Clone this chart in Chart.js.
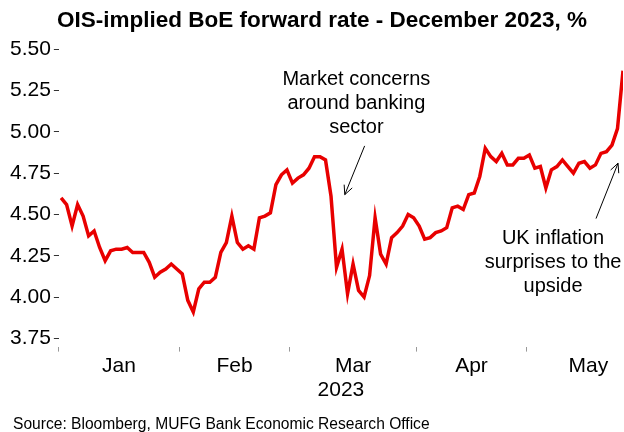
<!DOCTYPE html>
<html>
<head>
<meta charset="utf-8">
<script src="https://cdn.jsdelivr.net/npm/chart.js@4/dist/chart.umd.min.js"></script>
<style>
  html, body { margin: 0; padding: 0; background: #fff; }
  #wrap { position: relative; width: 624px; height: 432px; }
</style>
</head>
<body>
<div id="wrap"><canvas id="boeChart"></canvas></div>
<script>
// business-day index from 3 Jan 2023, rate in %
const RATES = [
  4.60, 4.56, 4.43, 4.56, 4.49, 4.37, 4.40, 4.30, 4.22, 4.28,
  4.29, 4.29, 4.30, 4.27, 4.27, 4.27, 4.21, 4.12, 4.15, 4.17,
  4.20, 4.17, 4.14, 3.98, 3.91, 4.05, 4.09, 4.09, 4.12, 4.27,
  4.33, 4.49, 4.33, 4.29, 4.31, 4.29, 4.48, 4.49, 4.51, 4.68,
  4.74, 4.77, 4.69, 4.72, 4.74, 4.78, 4.85, 4.85, 4.83, 4.61,
  4.18, 4.29, 4.02, 4.20, 4.04, 4.00, 4.13, 4.48, 4.26, 4.20,
  4.36, 4.39, 4.43, 4.50, 4.48, 4.43, 4.35, 4.36, 4.39, 4.40,
  4.42, 4.54, 4.55, 4.53, 4.62, 4.63, 4.73, 4.90, 4.85, 4.82,
  4.87, 4.80, 4.80, 4.84, 4.84, 4.86, 4.78, 4.79, 4.66, 4.77,
  4.79, 4.83, 4.79, 4.75, 4.81, 4.82, 4.78, 4.80, 4.87, 4.88,
  4.92, 5.02, 5.37
];

const MONTH_LABELS = ["Jan", "Feb", "Mar", "Apr", "May"];
const MONTH_BOUNDS = [-0.4, 21.5, 41.5, 64.5, 84.5];
const MONTH_MIDS = [10.5, 31.5, 53, 74.5, 95.7];
const Y_TICKS = [3.75, 4.00, 4.25, 4.50, 4.75, 5.00, 5.25, 5.50];

const NOTES = [
  { lines: ["Market concerns", "around banking", "sector"], at: [53.6, 5.32], arrow: [[55.1, 4.915], [51.5, 4.62]] },
  { lines: ["UK inflation", "surprises to the", "upside"], at: [89.3, 4.355], arrow: [[97.1, 4.475], [101.1, 4.81]] }
];
const TITLE = "OIS-implied BoE forward rate - December 2023, %";
const SOURCE = "Source: Bloomberg, MUFG Bank Economic Research Office";

const FONT = "'Liberation Sans', Arial, sans-serif";

const notesPlugin = {
  id: "notes",
  afterDatasetsDraw(chart) {
    const { ctx, scales: { x, y } } = chart;
    ctx.save();
    ctx.fillStyle = "#000";
    ctx.strokeStyle = "#000";
    ctx.lineWidth = 1;
    ctx.font = "20px " + FONT;
    ctx.textAlign = "center";
    ctx.textBaseline = "middle";
    for (const n of NOTES) {
      const cx = x.getPixelForValue(n.at[0]);
      const cy = y.getPixelForValue(n.at[1]);
      n.lines.forEach((t, i) => ctx.fillText(t, cx, cy + i * 24));

      const x1 = x.getPixelForValue(n.arrow[0][0]), y1 = y.getPixelForValue(n.arrow[0][1]);
      const x2 = x.getPixelForValue(n.arrow[1][0]), y2 = y.getPixelForValue(n.arrow[1][1]);
      const ang = Math.atan2(y2 - y1, x2 - x1);
      ctx.beginPath();
      ctx.moveTo(x1, y1);
      ctx.lineTo(x2, y2);
      ctx.moveTo(x2 - 10 * Math.cos(ang - 0.45), y2 - 10 * Math.sin(ang - 0.45));
      ctx.lineTo(x2, y2);
      ctx.lineTo(x2 - 10 * Math.cos(ang + 0.45), y2 - 10 * Math.sin(ang + 0.45));
      ctx.stroke();
    }

    // title sits a little right of the canvas centre, as in the original
    ctx.font = "bold 22.5px " + FONT;
    ctx.fillText(TITLE, 322, 21);

    ctx.font = "15.6px " + FONT;
    ctx.textAlign = "left";
    ctx.textBaseline = "alphabetic";
    ctx.fillText(SOURCE, 13, 429);
    ctx.restore();
  }
};

new Chart(document.getElementById("boeChart"), {
  type: "line",
  data: {
    datasets: [{
      data: RATES.map((v, i) => ({ x: i, y: v })),
      borderColor: "#e80000",
      borderWidth: 3.5,
      pointRadius: 0,
      tension: 0,
      fill: false
    }]
  },
  options: {
    responsive: true,
    maintainAspectRatio: false,
    animation: false,
    layout: { padding: { left: 7, right: 1, top: 41, bottom: 29 } },
    plugins: {
      legend: { display: false },
      tooltip: { enabled: false },
      title: { display: false }
    },
    scales: {
      x: {
        type: "linear",
        min: -0.4,
        max: 102,
        border: { display: false },
        grid: {
          drawOnChartArea: false,
          tickLength: 5,
          tickColor: (c) => MONTH_BOUNDS.includes(c.tick && c.tick.value) ? "#999" : "rgba(0,0,0,0)"
        },
        afterBuildTicks: (s) => {
          s.ticks = [...MONTH_BOUNDS, ...MONTH_MIDS].sort((a, b) => a - b).map((v) => ({ value: v }));
        },
        ticks: {
          autoSkip: false,
          maxRotation: 0,
          padding: 2,
          color: "#000",
          font: { family: FONT, size: 21 },
          callback: (v) => {
            const k = MONTH_MIDS.indexOf(v);
            return k >= 0 ? MONTH_LABELS[k] : "";
          }
        },
        title: {
          display: true,
          text: "2023",
          color: "#000",
          font: { family: FONT, size: 21 },
          padding: { top: -3, bottom: 0 }
        }
      },
      y: {
        min: 3.70,
        max: 5.55,
        border: { display: false },
        grid: { drawOnChartArea: false, tickLength: 5, tickColor: "#333" },
        afterBuildTicks: (s) => { s.ticks = Y_TICKS.map((v) => ({ value: v })); },
        ticks: {
          padding: 3,
          color: "#000",
          font: { family: FONT, size: 21 },
          callback: (v) => v.toFixed(2)
        }
      }
    }
  },
  plugins: [notesPlugin]
});
</script>
</body>
</html>
